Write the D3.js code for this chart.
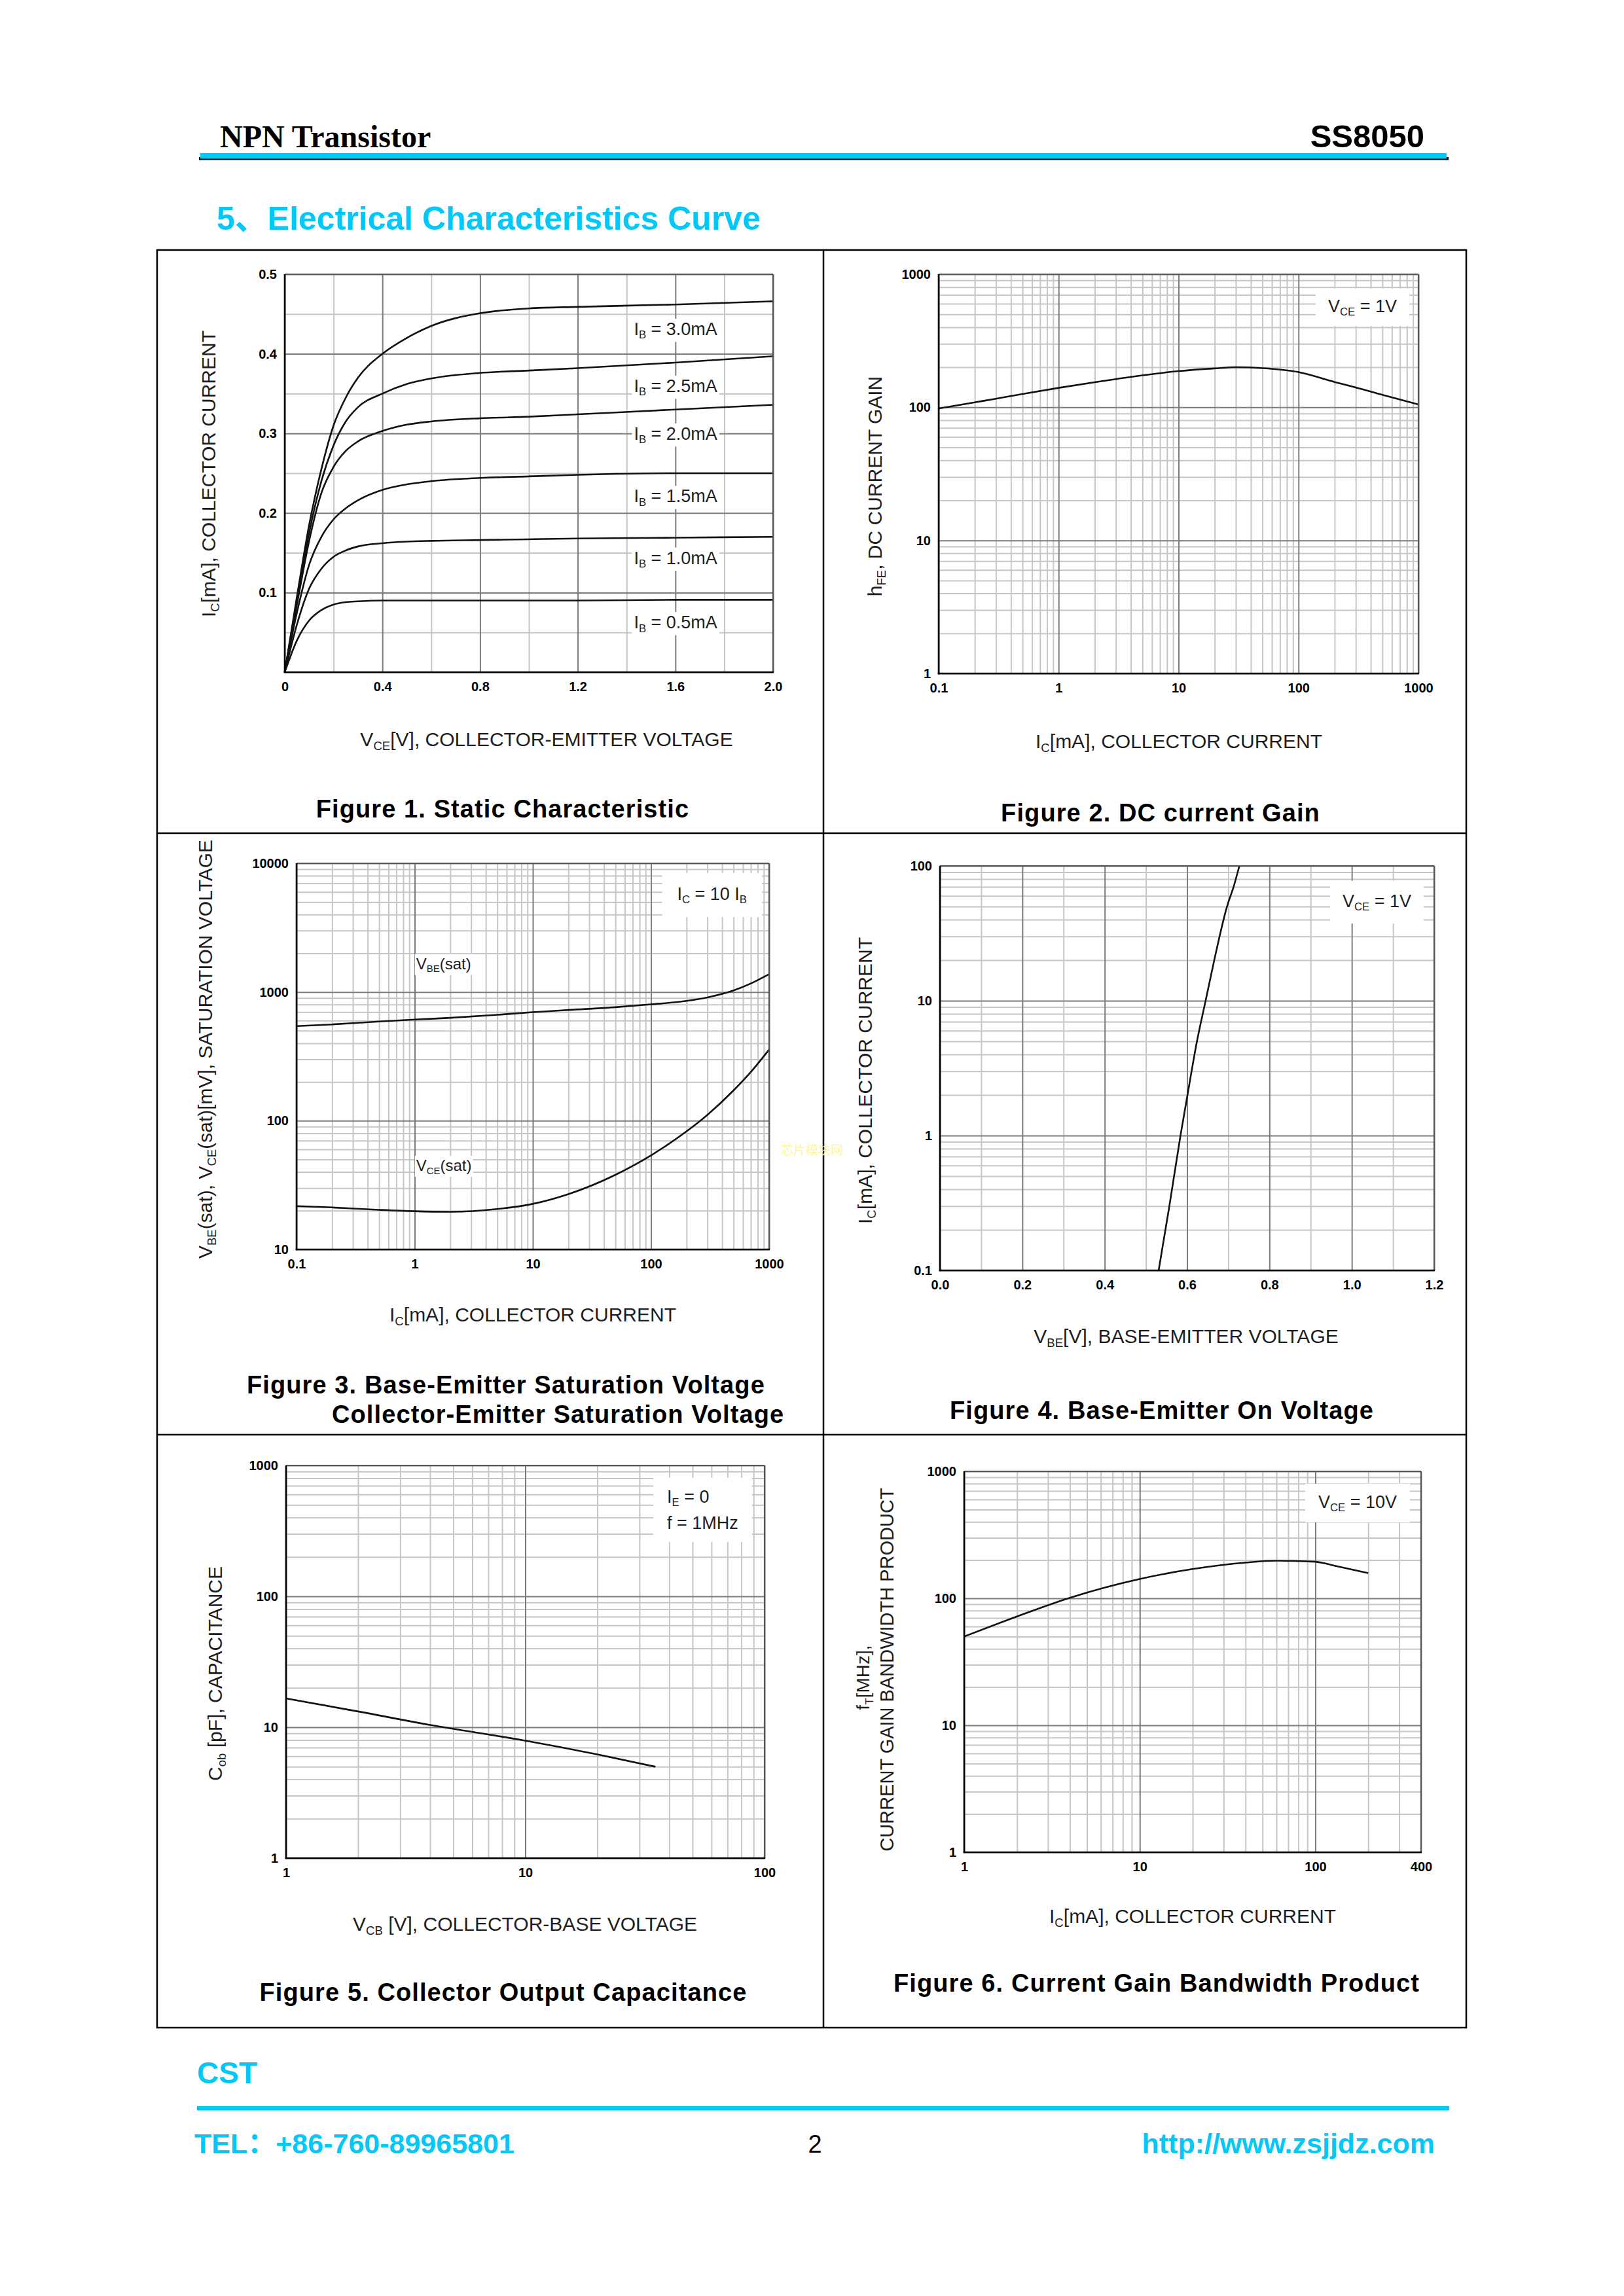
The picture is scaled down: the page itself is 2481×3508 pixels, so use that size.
<!DOCTYPE html>
<html><head><meta charset="utf-8">
<script src="https://cdn.jsdelivr.net/npm/d3@7"></script>
<style>body{margin:0;background:#fff}svg{display:block}</style>
</head><body>
<svg id="page" width="2481" height="3508"></svg>
<script>
// ================= DATA =================
// Figure 1 – Static characteristic (Ic vs Vce, per base current)
const fig1Vce  = [0, 0.05, 0.1, 0.15, 0.2, 0.25, 0.3, 0.4, 0.5, 0.6, 0.8, 1.0, 1.2, 1.6, 2.0];
const fig1Ib05 = [0, 0.040, 0.065, 0.078, 0.085, 0.088, 0.089, 0.090, 0.090, 0.090, 0.090, 0.090, 0.090, 0.091, 0.091];
const fig1Ib10 = [0, 0.060, 0.105, 0.130, 0.145, 0.153, 0.158, 0.162, 0.164, 0.165, 0.166, 0.167, 0.168, 0.169, 0.170];
const fig1Ib15 = [0, 0.075, 0.135, 0.170, 0.192, 0.206, 0.216, 0.229, 0.236, 0.240, 0.244, 0.246, 0.248, 0.250, 0.250];
const fig1Ib20 = [0, 0.085, 0.165, 0.225, 0.258, 0.278, 0.290, 0.303, 0.311, 0.315, 0.319, 0.321, 0.324, 0.330, 0.336];
const fig1Ib25 = [0, 0.090, 0.175, 0.240, 0.285, 0.315, 0.333, 0.350, 0.362, 0.369, 0.376, 0.379, 0.382, 0.389, 0.397];
const fig1Ib30 = [0, 0.095, 0.185, 0.255, 0.310, 0.345, 0.370, 0.400, 0.420, 0.435, 0.451, 0.457, 0.459, 0.462, 0.466];
const fig1Labels = ["I_{B} = 0.5mA", "I_{B} = 1.0mA", "I_{B} = 1.5mA", "I_{B} = 2.0mA", "I_{B} = 2.5mA", "I_{B} = 3.0mA"];
const fig1XTicks = [0, 0.4, 0.8, 1.2, 1.6, 2.0];
const fig1XTickLabels = ["0", "0.4", "0.8", "1.2", "1.6", "2.0"];
const fig1YTicks = [0.1, 0.2, 0.3, 0.4, 0.5];
const fig1YTickLabels = ["0.1", "0.2", "0.3", "0.4", "0.5"];

// Figure 2 – DC current gain
const fig2Ic  = [0.1, 0.2, 0.3, 0.5, 1, 2, 3, 5, 10, 20, 30, 50, 100, 200, 300, 500, 1000];
const fig2Hfe = [98, 109, 116, 126, 140, 154.5, 163, 174, 187, 196, 200, 197, 184, 155, 141, 124, 105];
const fig2XTicks = [0.1, 1, 10, 100, 1000];
const fig2XTickLabels = ["0.1", "1", "10", "100", "1000"];
const fig2YTicks = [1, 10, 100, 1000];
const fig2YTickLabels = ["1", "10", "100", "1000"];

// Figure 3 – Saturation voltages
const fig3Ic   = [0.1, 0.2, 0.5, 1, 2, 5, 10, 20, 50, 100, 200, 300, 500, 700, 1000];
const fig3Vbe  = [543, 560, 590, 611, 630, 665, 697, 725, 762, 802, 853, 908, 1028, 1165, 1377];
const fig3Vce  = [21.7, 21.2, 20.3, 19.8, 19.6, 20.6, 22.6, 26.9, 38, 53.8, 82.7, 111, 172, 239, 357];
const fig3XTicks = [0.1, 1, 10, 100, 1000];
const fig3XTickLabels = ["0.1", "1", "10", "100", "1000"];
const fig3YTicks = [10, 100, 1000, 10000];
const fig3YTickLabels = ["10", "100", "1000", "10000"];

// Figure 4 – Base-emitter on voltage
const fig4Ic  = [0.1, 0.3, 1, 2, 5, 10, 20, 50, 70, 100];
const fig4Vbe = [0.531, 0.557, 0.584, 0.601, 0.624, 0.645, 0.666, 0.697, 0.713, 0.727];
const fig4XTicks = [0, 0.2, 0.4, 0.6, 0.8, 1.0, 1.2];
const fig4XTickLabels = ["0.0", "0.2", "0.4", "0.6", "0.8", "1.0", "1.2"];
const fig4YTicks = [0.1, 1, 10, 100];
const fig4YTickLabels = ["0.1", "1", "10", "100"];

// Figure 5 – Collector output capacitance
const fig5Vcb = [1, 2, 4, 10, 20, 35];
const fig5Cob = [16.6, 13.2, 10.4, 7.9, 6.2, 4.99];
const fig5XTicks = [1, 10, 100];
const fig5XTickLabels = ["1", "10", "100"];
const fig5YTicks = [1, 10, 100, 1000];
const fig5YTickLabels = ["1", "10", "100", "1000"];

// Figure 6 – Current gain bandwidth product
const fig6Ic = [1, 2, 4, 10, 20, 40, 60, 100, 130, 200];
const fig6Ft = [50, 72, 101, 142, 170, 191, 198, 194, 180, 158];
const fig6XTicks = [1, 10, 100, 400];
const fig6XTickLabels = ["1", "10", "100", "400"];
const fig6YTicks = [1, 10, 100, 1000];
const fig6YTickLabels = ["1", "10", "100", "1000"];

// ================= DRAWING =================
const FONT = "'Liberation Sans', Arial, Helvetica, sans-serif";
const CYAN = "#00c8f8";
const svg = d3.select("#page");
svg.append("rect").attr("width", 2481).attr("height", 3508).attr("fill", "#fff");
const L = {
  grid: svg.append("g"), boxes: svg.append("g"), curves: svg.append("g"), top: svg.append("g")
};

function addRich(t, str, fs) {
  const parts = str.split(/(_\{[^}]*\})/).filter(s => s.length);
  let down = false;
  parts.forEach(p => {
    if (p.startsWith("_{")) {
      t.append("tspan").attr("font-size", fs * 0.62).attr("dy", fs * 0.2).text(p.slice(2, -1));
      down = true;
    } else {
      const s = t.append("tspan").text(p);
      if (down) { s.attr("dy", -fs * 0.2); down = false; }
    }
  });
  return t;
}
// cy = visual centre of the capitals
function txt(parent, x, cy, str, o = {}) {
  const fs = o.size || 30;
  let tx = x, ty = cy + fs * 0.36;
  if (o.rotate) { tx = x + fs * 0.36; ty = cy; }
  const t = parent.append("text").attr("x", tx).attr("y", ty)
    .attr("font-family", o.family || FONT).attr("font-size", fs)
    .attr("font-weight", o.weight || "normal").attr("fill", o.fill || "#1e1e1e")
    .attr("text-anchor", o.anchor || "start");
  if (o.spacing) t.attr("letter-spacing", o.spacing);
  if (o.rotate) t.attr("transform", `rotate(-90 ${tx} ${ty})`);
  addRich(t, str, fs);
  return t;
}
function whiteBox(nodes, px, py) {
  let x0 = Infinity, y0 = Infinity, x1 = -Infinity, y1 = -Infinity;
  nodes.forEach(n => {
    const b = n.node().getBBox();
    x0 = Math.min(x0, b.x); y0 = Math.min(y0, b.y);
    x1 = Math.max(x1, b.x + b.width); y1 = Math.max(y1, b.y + b.height);
  });
  L.boxes.append("rect").attr("x", x0 - px).attr("y", y0 - py)
    .attr("width", x1 - x0 + 2 * px).attr("height", y1 - y0 + 2 * py).attr("fill", "#fff");
}
function isMajor(v, log, step) {
  if (log) { const l = Math.log10(v); return Math.abs(l - Math.round(l)) < 1e-9; }
  const r = v / step; return Math.abs(r - Math.round(r)) < 1e-6;
}
function gridVals(scale, log, domain, step) {
  if (log) return scale.ticks();
  const n = Math.round((domain[1] - domain[0]) / step);
  return d3.range(n + 1).map(i => +(domain[0] + i * step).toFixed(6));
}

function panel(c) {
  const { x0, x1, y0, y1 } = c.box;
  const w = x1 - x0, h = y1 - y0;
  const x = (c.xLog ? d3.scaleLog() : d3.scaleLinear()).domain(c.xDomain).range([0, w]);
  const y = (c.yLog ? d3.scaleLog() : d3.scaleLinear()).domain(c.yDomain).range([h, 0]);
  const gg = L.grid.append("g").attr("transform", `translate(${x0},${y0})`);
  const gx = gridVals(x, c.xLog, c.xDomain, c.xStep);
  const gy = gridVals(y, c.yLog, c.yDomain, c.yStep);
  const xMinor = gx.filter(v => !isMajor(v, c.xLog, c.xMajor)), xMaj = gx.filter(v => isMajor(v, c.xLog, c.xMajor));
  const yMinor = gy.filter(v => !isMajor(v, c.yLog, c.yMajor)), yMaj = gy.filter(v => isMajor(v, c.yLog, c.yMajor));
  const gridX = (vals, col) => gg.append("g").attr("transform", `translate(0,${h})`)
    .call(d3.axisBottom(x).tickValues(vals).tickSize(-h).tickFormat(""))
    .call(a => { a.select(".domain").remove(); a.selectAll("line").attr("stroke", col).attr("stroke-width", 2); });
  const gridY = (vals, col) => gg.append("g")
    .call(d3.axisLeft(y).tickValues(vals).tickSize(-w).tickFormat(""))
    .call(a => { a.select(".domain").remove(); a.selectAll("line").attr("stroke", col).attr("stroke-width", 2); });
  gridX(xMinor, "#c6c6c6"); gridY(yMinor, "#c6c6c6");
  gridX(xMaj, "#7c7c7c"); gridY(yMaj, "#7c7c7c");

  const gc = L.curves.append("g").attr("transform", `translate(${x0},${y0})`);
  const line = d3.line().x(d => x(d[0])).y(d => y(d[1])).curve(d3.curveMonotoneX);
  c.series.forEach(s => gc.append("path").datum(d3.zip(s[0], s[1])).attr("d", line)
    .attr("fill", "none").attr("stroke", "#111").attr("stroke-width", 2.6));

  const gt = L.top.append("g").attr("transform", `translate(${x0},${y0})`);
  gt.append("line").attr("x1", 0).attr("y1", 0).attr("x2", w).attr("y2", 0).attr("stroke", "#555").attr("stroke-width", 2.2);
  gt.append("line").attr("x1", w).attr("y1", 0).attr("x2", w).attr("y2", h).attr("stroke", "#555").attr("stroke-width", 2.2);
  gt.append("line").attr("x1", 0).attr("y1", 0).attr("x2", 0).attr("y2", h + 1.3).attr("stroke", "#000").attr("stroke-width", 2.6);
  gt.append("line").attr("x1", -1.3).attr("y1", h).attr("x2", w + 1.1).attr("y2", h).attr("stroke", "#000").attr("stroke-width", 2.6);
  const styleT = a => { a.select(".domain").remove();
    a.selectAll("text").attr("font-family", FONT).attr("font-size", 20).attr("font-weight", "bold").attr("fill", "#000"); };
  gt.append("g").attr("transform", `translate(0,${h})`)
    .call(d3.axisBottom(x).tickValues(c.xTicks).tickFormat((d, i) => c.xTickLabels[i]).tickSize(0).tickPadding(15)).call(styleT);
  gt.append("g")
    .call(d3.axisLeft(y).tickValues(c.yTicks).tickFormat((d, i) => c.yTickLabels[i]).tickSize(0).tickPadding(12)).call(styleT);
  return { x: v => x0 + x(v), y: v => y0 + y(v) };
}
const CAP = { size: 38, weight: "bold", fill: "#000", spacing: 1.1 };

// ---------- page frame & header ----------
svg.append("text").attr("x", 336).attr("y", 225).attr("font-family", "'Liberation Serif', 'Times New Roman', serif")
  .attr("font-size", 48).attr("font-weight", "bold").attr("fill", "#000").text("NPN Transistor");
svg.append("text").attr("x", 2176).attr("y", 225).attr("text-anchor", "end").attr("font-family", FONT)
  .attr("font-size", 49).attr("font-weight", "bold").attr("fill", "#000").text("SS8050");
svg.append("rect").attr("x", 304).attr("y", 240).attr("width", 1909).attr("height", 4.5).attr("fill", "#000");
svg.append("rect").attr("x", 306).attr("y", 234).attr("width", 1904).attr("height", 8.5).attr("fill", CYAN);
svg.append("text").attr("x", 331).attr("y", 351).attr("font-family", FONT + ", 'Noto Sans CJK SC'")
  .attr("font-size", 50).attr("font-weight", "bold").attr("fill", CYAN).text("5、Electrical Characteristics Curve");

// ---------- panels ----------
const p1 = panel({ box: { x0: 435, x1: 1181, y0: 419, y1: 1027 },
  xLog: false, xDomain: [0, 2], xStep: 0.2, xMajor: 0.4,
  yLog: false, yDomain: [0, 0.5], yStep: 0.05, yMajor: 0.1,
  xTicks: fig1XTicks, xTickLabels: fig1XTickLabels, yTicks: fig1YTicks, yTickLabels: fig1YTickLabels,
  series: [[fig1Vce, fig1Ib05], [fig1Vce, fig1Ib10], [fig1Vce, fig1Ib15], [fig1Vce, fig1Ib20], [fig1Vce, fig1Ib25], [fig1Vce, fig1Ib30]] });
const fig1LabelAt = [0.063, 0.144, 0.2215, 0.30, 0.36, 0.4315];
fig1Labels.forEach((s, i) => {
  const t = txt(L.top, p1.x(1.43), p1.y(fig1LabelAt[i]), s, { size: 27 });
  whiteBox([t], 3, 1);
});
txt(L.top, 835, 1129, "V_{CE}[V], COLLECTOR-EMITTER VOLTAGE", { anchor: "middle" });
txt(L.top, 318, 724, "I_{C}[mA], COLLECTOR CURRENT", { anchor: "middle", rotate: true });
txt(L.top, 768, 1235, "Figure 1. Static Characteristic", Object.assign({ anchor: "middle" }, CAP));

const p2 = panel({ box: { x0: 1434, x1: 2167, y0: 419, y1: 1029 },
  xLog: true, xDomain: [0.1, 1000], yLog: true, yDomain: [1, 1000],
  xTicks: fig2XTicks, xTickLabels: fig2XTickLabels, yTicks: fig2YTicks, yTickLabels: fig2YTickLabels,
  series: [[fig2Ic, fig2Hfe]] });
whiteBox([txt(L.top, 2134, 467, "V_{CE} = 1V", { size: 27, anchor: "end" })], 19, 12);
txt(L.top, 1801, 1132, "I_{C}[mA], COLLECTOR CURRENT", { anchor: "middle" });
txt(L.top, 1336, 743, "h_{FE}, DC CURRENT GAIN", { anchor: "middle", rotate: true });
txt(L.top, 1773, 1241, "Figure 2. DC current Gain", Object.assign({ anchor: "middle" }, CAP));

const p3 = panel({ box: { x0: 453, x1: 1175, y0: 1319, y1: 1909 },
  xLog: true, xDomain: [0.1, 1000], yLog: true, yDomain: [10, 10000],
  xTicks: fig3XTicks, xTickLabels: fig3XTickLabels, yTicks: fig3YTicks, yTickLabels: fig3YTickLabels,
  series: [[fig3Ic, fig3Vbe], [fig3Ic, fig3Vce]] });
whiteBox([txt(L.top, 1141, 1365, "I_{C} = 10 I_{B}", { size: 27, anchor: "end" })], 23, 17);
whiteBox([txt(L.top, p3.x(1.03), p3.y(1667), "V_{BE}(sat)", { size: 24 })], 2, 1);
whiteBox([txt(L.top, p3.x(1.03), p3.y(45), "V_{CE}(sat)", { size: 24 })], 2, 1);
txt(L.top, 814, 2008, "I_{C}[mA], COLLECTOR CURRENT", { anchor: "middle" });
txt(L.top, 313, 1603, "V_{BE}(sat), V_{CE}(sat)[mV], SATURATION VOLTAGE", { anchor: "middle", rotate: true });
txt(L.top, 377, 2115, "Figure 3. Base-Emitter Saturation Voltage", CAP);
txt(L.top, 507, 2160, "Collector-Emitter Saturation Voltage", CAP);

const p4 = panel({ box: { x0: 1436, x1: 2191, y0: 1323, y1: 1941 },
  xLog: false, xDomain: [0, 1.2], xStep: 0.1, xMajor: 0.2, yLog: true, yDomain: [0.1, 100],
  xTicks: fig4XTicks, xTickLabels: fig4XTickLabels, yTicks: fig4YTicks, yTickLabels: fig4YTickLabels,
  series: [[fig4Vbe, fig4Ic]] });
whiteBox([txt(L.top, 2156, 1376, "V_{CE} = 1V", { size: 27, anchor: "end" })], 19, 16);
txt(L.top, 1812, 2041, "V_{BE}[V], BASE-EMITTER VOLTAGE", { anchor: "middle" });
txt(L.top, 1321, 1651, "I_{C}[mA], COLLECTOR CURRENT", { anchor: "middle", rotate: true });
txt(L.top, 1775, 2154, "Figure 4. Base-Emitter On Voltage", Object.assign({ anchor: "middle" }, CAP));

// watermark
svg.append("text").attr("x", 1193).attr("y", 1764).attr("font-family", "'Noto Sans CJK SC'")
  .attr("font-size", 19).attr("fill", "#fff59a").text("芯片模块网");

const p5 = panel({ box: { x0: 437, x1: 1168, y0: 2239, y1: 2839 },
  xLog: true, xDomain: [1, 100], yLog: true, yDomain: [1, 1000],
  xTicks: fig5XTicks, xTickLabels: fig5XTickLabels, yTicks: fig5YTicks, yTickLabels: fig5YTickLabels,
  series: [[fig5Vcb, fig5Cob]] });
whiteBox([txt(L.top, 1019, 2286, "I_{E} = 0", { size: 27 }), txt(L.top, 1019, 2326, "f = 1MHz", { size: 27 })], 21, 14);
txt(L.top, 802, 2939, "V_{CB} [V], COLLECTOR-BASE VOLTAGE", { anchor: "middle" });
txt(L.top, 328, 2557, "C_{ob} [pF], CAPACITANCE", { anchor: "middle", rotate: true });
txt(L.top, 769, 3043, "Figure 5. Collector Output Capacitance", Object.assign({ anchor: "middle" }, CAP));

const p6 = panel({ box: { x0: 1473, x1: 2171, y0: 2248, y1: 2830 },
  xLog: true, xDomain: [1, 400], yLog: true, yDomain: [1, 1000],
  xTicks: fig6XTicks, xTickLabels: fig6XTickLabels, yTicks: fig6YTicks, yTickLabels: fig6YTickLabels,
  series: [[fig6Ic, fig6Ft]] });
whiteBox([txt(L.top, 2134, 2294, "V_{CE} = 10V", { size: 27, anchor: "end" })], 20, 13);
txt(L.top, 1822, 2927, "I_{C}[mA], COLLECTOR CURRENT", { anchor: "middle" });
txt(L.top, 1318, 2563, "f_{T}[MHz],", { anchor: "middle", rotate: true, size: 28 });
txt(L.top, 1355, 2551, "CURRENT  GAIN BANDWIDTH PRODUCT", { anchor: "middle", rotate: true, size: 29 });
txt(L.top, 1767, 3029, "Figure 6. Current Gain Bandwidth Product", Object.assign({ anchor: "middle" }, CAP));

// frame
const fr = L.top.append("g").attr("stroke", "#000").attr("stroke-width", 2.5).attr("fill", "none");
fr.append("rect").attr("x", 240).attr("y", 382).attr("width", 2000).attr("height", 2716);
fr.append("line").attr("x1", 240).attr("x2", 2240).attr("y1", 1273).attr("y2", 1273);
fr.append("line").attr("x1", 240).attr("x2", 2240).attr("y1", 2192).attr("y2", 2192);
fr.append("line").attr("x1", 1258).attr("x2", 1258).attr("y1", 382).attr("y2", 3098);

// footer
svg.append("text").attr("x", 301).attr("y", 3183).attr("font-family", FONT).attr("font-size", 46)
  .attr("font-weight", "bold").attr("fill", CYAN).text("CST");
svg.append("rect").attr("x", 301).attr("y", 3218).attr("width", 1913).attr("height", 6.5).attr("fill", CYAN);
svg.append("text").attr("x", 297).attr("y", 3290).attr("font-family", FONT + ", 'Noto Sans CJK SC'").attr("font-size", 43)
  .attr("font-weight", "bold").attr("fill", CYAN).text("TEL：+86-760-89965801");
svg.append("text").attr("x", 1245).attr("y", 3289).attr("text-anchor", "middle").attr("font-family", FONT)
  .attr("font-size", 38).attr("fill", "#000").text("2");
svg.append("text").attr("x", 2192).attr("y", 3290).attr("text-anchor", "end").attr("font-family", FONT).attr("font-size", 43)
  .attr("font-weight", "bold").attr("fill", CYAN).text("http://www.zsjjdz.com");
</script>
</body></html>
